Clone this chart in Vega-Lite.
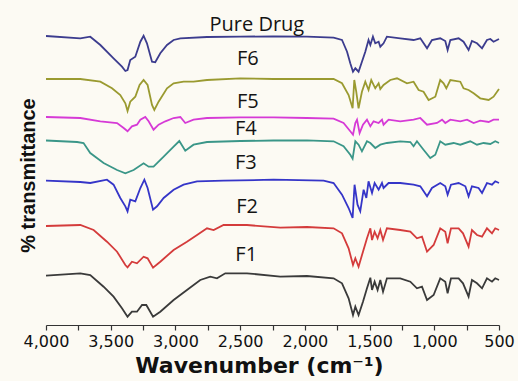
{
"$schema": "https://vega.github.io/schema/vega-lite/v6.json",
"width": 453, "height": 300,
"autosize": "none",
"padding": {"left": 46, "top": 25, "right": 19, "bottom": 56},
"background": "#fcfaf3",
"config": {"view": {"stroke": null}, "font": "Liberation Sans"},
"datasets": {
"spectra": [
{"s":"Pure Drug","w":4000,"t":289},{"s":"Pure Drug","w":3735,"t":286.7},{"s":"Pure Drug","w":3658,"t":288.3},{"s":"Pure Drug","w":3580,"t":280},{"s":"Pure Drug","w":3478,"t":266.7},{"s":"Pure Drug","w":3413,"t":258.3},{"s":"Pure Drug","w":3387,"t":254},{"s":"Pure Drug","w":3370,"t":255},{"s":"Pure Drug","w":3349,"t":265},{"s":"Pure Drug","w":3310,"t":268.3},{"s":"Pure Drug","w":3271,"t":283.3},{"s":"Pure Drug","w":3246,"t":289.3},{"s":"Pure Drug","w":3220,"t":281.7},{"s":"Pure Drug","w":3181,"t":263.3},{"s":"Pure Drug","w":3156,"t":262.7},{"s":"Pure Drug","w":3117,"t":271.7},{"s":"Pure Drug","w":3065,"t":280},{"s":"Pure Drug","w":3014,"t":285},{"s":"Pure Drug","w":2962,"t":286.7},{"s":"Pure Drug","w":2756,"t":288},{"s":"Pure Drug","w":2499,"t":288.3},{"s":"Pure Drug","w":2242,"t":288.7},{"s":"Pure Drug","w":1984,"t":288.3},{"s":"Pure Drug","w":1778,"t":287.3},{"s":"Pure Drug","w":1713,"t":285},{"s":"Pure Drug","w":1674,"t":273.3},{"s":"Pure Drug","w":1649,"t":261.7},{"s":"Pure Drug","w":1628,"t":253.3},{"s":"Pure Drug","w":1610,"t":256.7},{"s":"Pure Drug","w":1585,"t":253.3},{"s":"Pure Drug","w":1559,"t":263.3},{"s":"Pure Drug","w":1533,"t":273.3},{"s":"Pure Drug","w":1508,"t":285},{"s":"Pure Drug","w":1494,"t":280},{"s":"Pure Drug","w":1474,"t":288.3},{"s":"Pure Drug","w":1456,"t":281.7},{"s":"Pure Drug","w":1430,"t":283.3},{"s":"Pure Drug","w":1417,"t":278.3},{"s":"Pure Drug","w":1392,"t":281.7},{"s":"Pure Drug","w":1366,"t":288.3},{"s":"Pure Drug","w":1263,"t":286.7},{"s":"Pure Drug","w":1160,"t":285},{"s":"Pure Drug","w":1108,"t":286.7},{"s":"Pure Drug","w":1056,"t":276.7},{"s":"Pure Drug","w":1018,"t":285},{"s":"Pure Drug","w":954,"t":286.7},{"s":"Pure Drug","w":915,"t":284},{"s":"Pure Drug","w":897,"t":275},{"s":"Pure Drug","w":876,"t":285},{"s":"Pure Drug","w":812,"t":286.7},{"s":"Pure Drug","w":774,"t":283.3},{"s":"Pure Drug","w":735,"t":275},{"s":"Pure Drug","w":709,"t":284},{"s":"Pure Drug","w":670,"t":281.7},{"s":"Pure Drug","w":631,"t":276.7},{"s":"Pure Drug","w":593,"t":285},{"s":"Pure Drug","w":567,"t":286},{"s":"Pure Drug","w":542,"t":283.3},{"s":"Pure Drug","w":500,"t":286},
{"s":"F6","w":4000,"t":246},{"s":"F6","w":3735,"t":246},{"s":"F6","w":3580,"t":243.3},{"s":"F6","w":3490,"t":236.7},{"s":"F6","w":3426,"t":230},{"s":"F6","w":3387,"t":221.7},{"s":"F6","w":3370,"t":214},{"s":"F6","w":3349,"t":223.3},{"s":"F6","w":3310,"t":228.3},{"s":"F6","w":3277,"t":240},{"s":"F6","w":3246,"t":245},{"s":"F6","w":3215,"t":240},{"s":"F6","w":3181,"t":220},{"s":"F6","w":3163,"t":215},{"s":"F6","w":3130,"t":223.3},{"s":"F6","w":3065,"t":236.7},{"s":"F6","w":3014,"t":241.7},{"s":"F6","w":2937,"t":243.3},{"s":"F6","w":2860,"t":243.3},{"s":"F6","w":2756,"t":245},{"s":"F6","w":2499,"t":246.7},{"s":"F6","w":2242,"t":246},{"s":"F6","w":1984,"t":246},{"s":"F6","w":1778,"t":246},{"s":"F6","w":1713,"t":241.7},{"s":"F6","w":1662,"t":230},{"s":"F6","w":1631,"t":216.7},{"s":"F6","w":1618,"t":245},{"s":"F6","w":1603,"t":233.3},{"s":"F6","w":1585,"t":216.7},{"s":"F6","w":1559,"t":233.3},{"s":"F6","w":1533,"t":243.3},{"s":"F6","w":1508,"t":235},{"s":"F6","w":1487,"t":245},{"s":"F6","w":1456,"t":236.7},{"s":"F6","w":1430,"t":241.7},{"s":"F6","w":1417,"t":236},{"s":"F6","w":1392,"t":240},{"s":"F6","w":1340,"t":245},{"s":"F6","w":1288,"t":246.7},{"s":"F6","w":1211,"t":241.7},{"s":"F6","w":1160,"t":243.3},{"s":"F6","w":1121,"t":235},{"s":"F6","w":1083,"t":233.3},{"s":"F6","w":1044,"t":225},{"s":"F6","w":992,"t":228.3},{"s":"F6","w":954,"t":245},{"s":"F6","w":928,"t":241.7},{"s":"F6","w":907,"t":236.7},{"s":"F6","w":876,"t":245},{"s":"F6","w":799,"t":243.3},{"s":"F6","w":774,"t":236.7},{"s":"F6","w":735,"t":235},{"s":"F6","w":696,"t":231.7},{"s":"F6","w":645,"t":226.7},{"s":"F6","w":580,"t":225},{"s":"F6","w":542,"t":228.3},{"s":"F6","w":500,"t":236},
{"s":"F5","w":4000,"t":208},{"s":"F5","w":3735,"t":207},{"s":"F5","w":3580,"t":203.7},{"s":"F5","w":3451,"t":202},{"s":"F5","w":3400,"t":197},{"s":"F5","w":3370,"t":193.7},{"s":"F5","w":3336,"t":198.7},{"s":"F5","w":3297,"t":200.3},{"s":"F5","w":3271,"t":205.3},{"s":"F5","w":3233,"t":208},{"s":"F5","w":3207,"t":203.7},{"s":"F5","w":3169,"t":195.3},{"s":"F5","w":3130,"t":200.3},{"s":"F5","w":3078,"t":203.7},{"s":"F5","w":3014,"t":207},{"s":"F5","w":2962,"t":208},{"s":"F5","w":2924,"t":202},{"s":"F5","w":2860,"t":205.3},{"s":"F5","w":2756,"t":207},{"s":"F5","w":2499,"t":207.7},{"s":"F5","w":2242,"t":207.7},{"s":"F5","w":1984,"t":207},{"s":"F5","w":1778,"t":206.3},{"s":"F5","w":1701,"t":202},{"s":"F5","w":1649,"t":193.7},{"s":"F5","w":1628,"t":190.3},{"s":"F5","w":1610,"t":202},{"s":"F5","w":1597,"t":205.3},{"s":"F5","w":1577,"t":192},{"s":"F5","w":1551,"t":200.3},{"s":"F5","w":1520,"t":205.3},{"s":"F5","w":1494,"t":198.7},{"s":"F5","w":1469,"t":203.7},{"s":"F5","w":1430,"t":202},{"s":"F5","w":1404,"t":205.3},{"s":"F5","w":1392,"t":200.3},{"s":"F5","w":1353,"t":205.3},{"s":"F5","w":1263,"t":203.7},{"s":"F5","w":1160,"t":205.3},{"s":"F5","w":1108,"t":207},{"s":"F5","w":1056,"t":200.3},{"s":"F5","w":979,"t":202},{"s":"F5","w":940,"t":205.3},{"s":"F5","w":915,"t":202},{"s":"F5","w":876,"t":205.3},{"s":"F5","w":799,"t":203.7},{"s":"F5","w":747,"t":205.3},{"s":"F5","w":696,"t":202},{"s":"F5","w":645,"t":204.3},{"s":"F5","w":580,"t":203},{"s":"F5","w":542,"t":205.3},{"s":"F5","w":500,"t":205.3},
{"s":"F4","w":4000,"t":184.5},{"s":"F4","w":3760,"t":183},{"s":"F4","w":3710,"t":182},{"s":"F4","w":3658,"t":172},{"s":"F4","w":3555,"t":162},{"s":"F4","w":3451,"t":155},{"s":"F4","w":3387,"t":151.7},{"s":"F4","w":3323,"t":155},{"s":"F4","w":3246,"t":161.7},{"s":"F4","w":3207,"t":158.3},{"s":"F4","w":3169,"t":158.3},{"s":"F4","w":3091,"t":168.3},{"s":"F4","w":3014,"t":178.3},{"s":"F4","w":2970,"t":184},{"s":"F4","w":2924,"t":174.3},{"s":"F4","w":2860,"t":180.3},{"s":"F4","w":2756,"t":183},{"s":"F4","w":2499,"t":184},{"s":"F4","w":2242,"t":184.5},{"s":"F4","w":1984,"t":184.7},{"s":"F4","w":1778,"t":183.7},{"s":"F4","w":1701,"t":178.7},{"s":"F4","w":1649,"t":170.3},{"s":"F4","w":1631,"t":166.3},{"s":"F4","w":1610,"t":183.7},{"s":"F4","w":1585,"t":180.3},{"s":"F4","w":1559,"t":173.7},{"s":"F4","w":1520,"t":183.7},{"s":"F4","w":1494,"t":182},{"s":"F4","w":1456,"t":177},{"s":"F4","w":1417,"t":180.3},{"s":"F4","w":1366,"t":182},{"s":"F4","w":1263,"t":183.7},{"s":"F4","w":1185,"t":183},{"s":"F4","w":1160,"t":178.7},{"s":"F4","w":1134,"t":183.7},{"s":"F4","w":1083,"t":175.3},{"s":"F4","w":1031,"t":167},{"s":"F4","w":992,"t":170.3},{"s":"F4","w":954,"t":183.7},{"s":"F4","w":915,"t":180.3},{"s":"F4","w":851,"t":182},{"s":"F4","w":799,"t":180.3},{"s":"F4","w":722,"t":183.7},{"s":"F4","w":670,"t":180.3},{"s":"F4","w":619,"t":182},{"s":"F4","w":567,"t":181},{"s":"F4","w":529,"t":183.7},{"s":"F4","w":500,"t":182},
{"s":"F3","w":4000,"t":144.3},{"s":"F3","w":3735,"t":143},{"s":"F3","w":3658,"t":142},{"s":"F3","w":3529,"t":145.3},{"s":"F3","w":3478,"t":140.3},{"s":"F3","w":3426,"t":127},{"s":"F3","w":3387,"t":118.7},{"s":"F3","w":3370,"t":113.7},{"s":"F3","w":3349,"t":125.3},{"s":"F3","w":3310,"t":123.7},{"s":"F3","w":3271,"t":137},{"s":"F3","w":3240,"t":145.3},{"s":"F3","w":3215,"t":137},{"s":"F3","w":3173,"t":115.3},{"s":"F3","w":3142,"t":118.7},{"s":"F3","w":3091,"t":127},{"s":"F3","w":3014,"t":135.3},{"s":"F3","w":2937,"t":140.3},{"s":"F3","w":2833,"t":143.7},{"s":"F3","w":2628,"t":144.3},{"s":"F3","w":2242,"t":145.3},{"s":"F3","w":1855,"t":144.3},{"s":"F3","w":1778,"t":142},{"s":"F3","w":1713,"t":130.3},{"s":"F3","w":1662,"t":117},{"s":"F3","w":1631,"t":107},{"s":"F3","w":1616,"t":140.3},{"s":"F3","w":1593,"t":120.3},{"s":"F3","w":1572,"t":113.7},{"s":"F3","w":1546,"t":135.3},{"s":"F3","w":1525,"t":127},{"s":"F3","w":1508,"t":143.7},{"s":"F3","w":1481,"t":132},{"s":"F3","w":1461,"t":142},{"s":"F3","w":1430,"t":135.3},{"s":"F3","w":1404,"t":142},{"s":"F3","w":1392,"t":137},{"s":"F3","w":1353,"t":142},{"s":"F3","w":1263,"t":142},{"s":"F3","w":1160,"t":140.3},{"s":"F3","w":1108,"t":138.7},{"s":"F3","w":1056,"t":128.7},{"s":"F3","w":1018,"t":137},{"s":"F3","w":954,"t":142},{"s":"F3","w":915,"t":138.7},{"s":"F3","w":897,"t":130.3},{"s":"F3","w":871,"t":140.3},{"s":"F3","w":812,"t":142},{"s":"F3","w":760,"t":138.7},{"s":"F3","w":735,"t":128.7},{"s":"F3","w":709,"t":138.7},{"s":"F3","w":658,"t":137},{"s":"F3","w":631,"t":132},{"s":"F3","w":593,"t":142},{"s":"F3","w":554,"t":140.3},{"s":"F3","w":529,"t":143.7},{"s":"F3","w":500,"t":142},
{"s":"F2","w":4000,"t":99},{"s":"F2","w":3735,"t":100},{"s":"F2","w":3632,"t":95},{"s":"F2","w":3529,"t":83.3},{"s":"F2","w":3451,"t":73.3},{"s":"F2","w":3387,"t":60},{"s":"F2","w":3370,"t":57.7},{"s":"F2","w":3336,"t":63.3},{"s":"F2","w":3297,"t":61.7},{"s":"F2","w":3246,"t":68.3},{"s":"F2","w":3215,"t":66.7},{"s":"F2","w":3173,"t":57.3},{"s":"F2","w":3117,"t":63.3},{"s":"F2","w":3014,"t":75},{"s":"F2","w":2911,"t":83.3},{"s":"F2","w":2833,"t":90},{"s":"F2","w":2756,"t":96.7},{"s":"F2","w":2705,"t":95},{"s":"F2","w":2628,"t":100},{"s":"F2","w":2447,"t":100},{"s":"F2","w":2190,"t":97.3},{"s":"F2","w":1984,"t":98},{"s":"F2","w":1778,"t":96.7},{"s":"F2","w":1713,"t":91.7},{"s":"F2","w":1662,"t":76.7},{"s":"F2","w":1628,"t":60},{"s":"F2","w":1610,"t":66.7},{"s":"F2","w":1585,"t":58.3},{"s":"F2","w":1551,"t":73.3},{"s":"F2","w":1520,"t":86.7},{"s":"F2","w":1494,"t":96.7},{"s":"F2","w":1481,"t":85},{"s":"F2","w":1461,"t":93.3},{"s":"F2","w":1438,"t":86.7},{"s":"F2","w":1417,"t":95},{"s":"F2","w":1396,"t":85},{"s":"F2","w":1366,"t":96.7},{"s":"F2","w":1263,"t":95},{"s":"F2","w":1185,"t":93.3},{"s":"F2","w":1134,"t":86.7},{"s":"F2","w":1095,"t":88.3},{"s":"F2","w":1056,"t":73.3},{"s":"F2","w":1005,"t":80},{"s":"F2","w":954,"t":96.7},{"s":"F2","w":915,"t":93.3},{"s":"F2","w":897,"t":81.7},{"s":"F2","w":871,"t":96.7},{"s":"F2","w":812,"t":96.7},{"s":"F2","w":778,"t":91.7},{"s":"F2","w":735,"t":78.3},{"s":"F2","w":709,"t":95},{"s":"F2","w":670,"t":90},{"s":"F2","w":631,"t":88.3},{"s":"F2","w":593,"t":96.7},{"s":"F2","w":554,"t":91.7},{"s":"F2","w":529,"t":96.7},{"s":"F2","w":500,"t":95},
{"s":"F1","w":4000,"t":49.3},{"s":"F1","w":3735,"t":51.7},{"s":"F1","w":3658,"t":50},{"s":"F1","w":3555,"t":38.3},{"s":"F1","w":3478,"t":28.3},{"s":"F1","w":3413,"t":16.7},{"s":"F1","w":3370,"t":8.3},{"s":"F1","w":3336,"t":13.3},{"s":"F1","w":3297,"t":13.3},{"s":"F1","w":3258,"t":20},{"s":"F1","w":3225,"t":20},{"s":"F1","w":3173,"t":8.3},{"s":"F1","w":3117,"t":13.3},{"s":"F1","w":3014,"t":25},{"s":"F1","w":2911,"t":35},{"s":"F1","w":2808,"t":45},{"s":"F1","w":2731,"t":48.3},{"s":"F1","w":2679,"t":46.7},{"s":"F1","w":2615,"t":51.7},{"s":"F1","w":2447,"t":51.7},{"s":"F1","w":2190,"t":48.3},{"s":"F1","w":1984,"t":49},{"s":"F1","w":1778,"t":46.7},{"s":"F1","w":1713,"t":41.7},{"s":"F1","w":1662,"t":26.7},{"s":"F1","w":1628,"t":10},{"s":"F1","w":1610,"t":18.3},{"s":"F1","w":1585,"t":10},{"s":"F1","w":1551,"t":23.3},{"s":"F1","w":1520,"t":36.7},{"s":"F1","w":1494,"t":47.3},{"s":"F1","w":1481,"t":35},{"s":"F1","w":1461,"t":43.3},{"s":"F1","w":1438,"t":35},{"s":"F1","w":1417,"t":45},{"s":"F1","w":1396,"t":33.3},{"s":"F1","w":1366,"t":46.7},{"s":"F1","w":1263,"t":46.7},{"s":"F1","w":1185,"t":43.3},{"s":"F1","w":1134,"t":36.7},{"s":"F1","w":1095,"t":38.3},{"s":"F1","w":1056,"t":25},{"s":"F1","w":1005,"t":30},{"s":"F1","w":954,"t":46.7},{"s":"F1","w":915,"t":43.3},{"s":"F1","w":897,"t":31.7},{"s":"F1","w":871,"t":46.7},{"s":"F1","w":812,"t":46.7},{"s":"F1","w":778,"t":41.7},{"s":"F1","w":735,"t":28.3},{"s":"F1","w":709,"t":45},{"s":"F1","w":670,"t":41.7},{"s":"F1","w":631,"t":36.7},{"s":"F1","w":593,"t":46.7},{"s":"F1","w":554,"t":43.3},{"s":"F1","w":529,"t":46.7},{"s":"F1","w":500,"t":45}
],
"labels": [
{"label":"Pure Drug","w":2371,"t":294.3},
{"label":"F6","w":2441,"t":260},
{"label":"F5","w":2441,"t":217.3},
{"label":"F4","w":2456,"t":190.3},
{"label":"F3","w":2456,"t":156},
{"label":"F2","w":2447,"t":112},
{"label":"F1","w":2453,"t":64}
]
},
"encoding": {
  "x": {"field": "w", "type": "quantitative",
    "scale": {"domain": [4000, 500], "nice": false, "zero": false},
    "axis": {"values": [4000,3750,3500,3250,3000,2750,2500,2250,2000,1750,1500,1250,1000,750,500],
      "labelExpr": "datum.value % 500 === 0 ? format(datum.value, ',') : ''",
      "labelFont": "DejaVu Sans", "labelFontSize": 16, "labelColor": "#111111",
      "labelFlush": false, "labelOverlap": false, "labelBound": false, "labelPadding": 3,
      "tickSize": 5, "tickColor": "#333333", "tickWidth": 1.2,
      "domainColor": "#333333", "domainWidth": 1.2, "grid": false,
      "title": "Wavenumber (cm⁻¹)", "titleFont": "DejaVu Sans", "titleFontSize": 22, "titleFontWeight": "bold", "titleColor": "#111111",
      "titleX": 213, "titleY": 47, "titleBaseline": "alphabetic", "titleAlign": "center",
      "encode": {"ticks": {"update": {"y2": {"signal": "datum.value % 500 === 0 ? 5 : 3"}}}}}},
  "y": {"field": "t", "type": "quantitative",
    "scale": {"domain": [0, 300], "nice": false, "zero": false},
    "axis": {"title": "% transmittance", "labels": false, "ticks": false, "domain": false, "grid": false,
      "titleFont": "Liberation Sans", "titleFontSize": 20, "titleFontWeight": "bold", "titleColor": "#111111",
      "titleX": -12, "titleY": 150, "titleAngle": 270, "titleBaseline": "alphabetic", "titleAlign": "center"}}
},
"layer": [
  {"data": {"name": "spectra"},
   "mark": {"type": "line", "strokeWidth": 1.8},
   "encoding": {
     "color": {"field": "s", "type": "nominal",
       "scale": {"domain": ["Pure Drug","F6","F5","F4","F3","F2","F1"],
                 "range": ["#3c3c8e","#9a9a30","#d63ad6","#3a9688","#3535c8","#d43b3b","#3a3a3a"]},
       "legend": null}}},
  {"data": {"name": "labels"},
   "mark": {"type": "text", "font": "Open Sans", "fontSize": 20, "baseline": "alphabetic", "align": "center", "color": "#141414"},
   "encoding": {"text": {"field": "label", "type": "nominal"}}}
]
}
